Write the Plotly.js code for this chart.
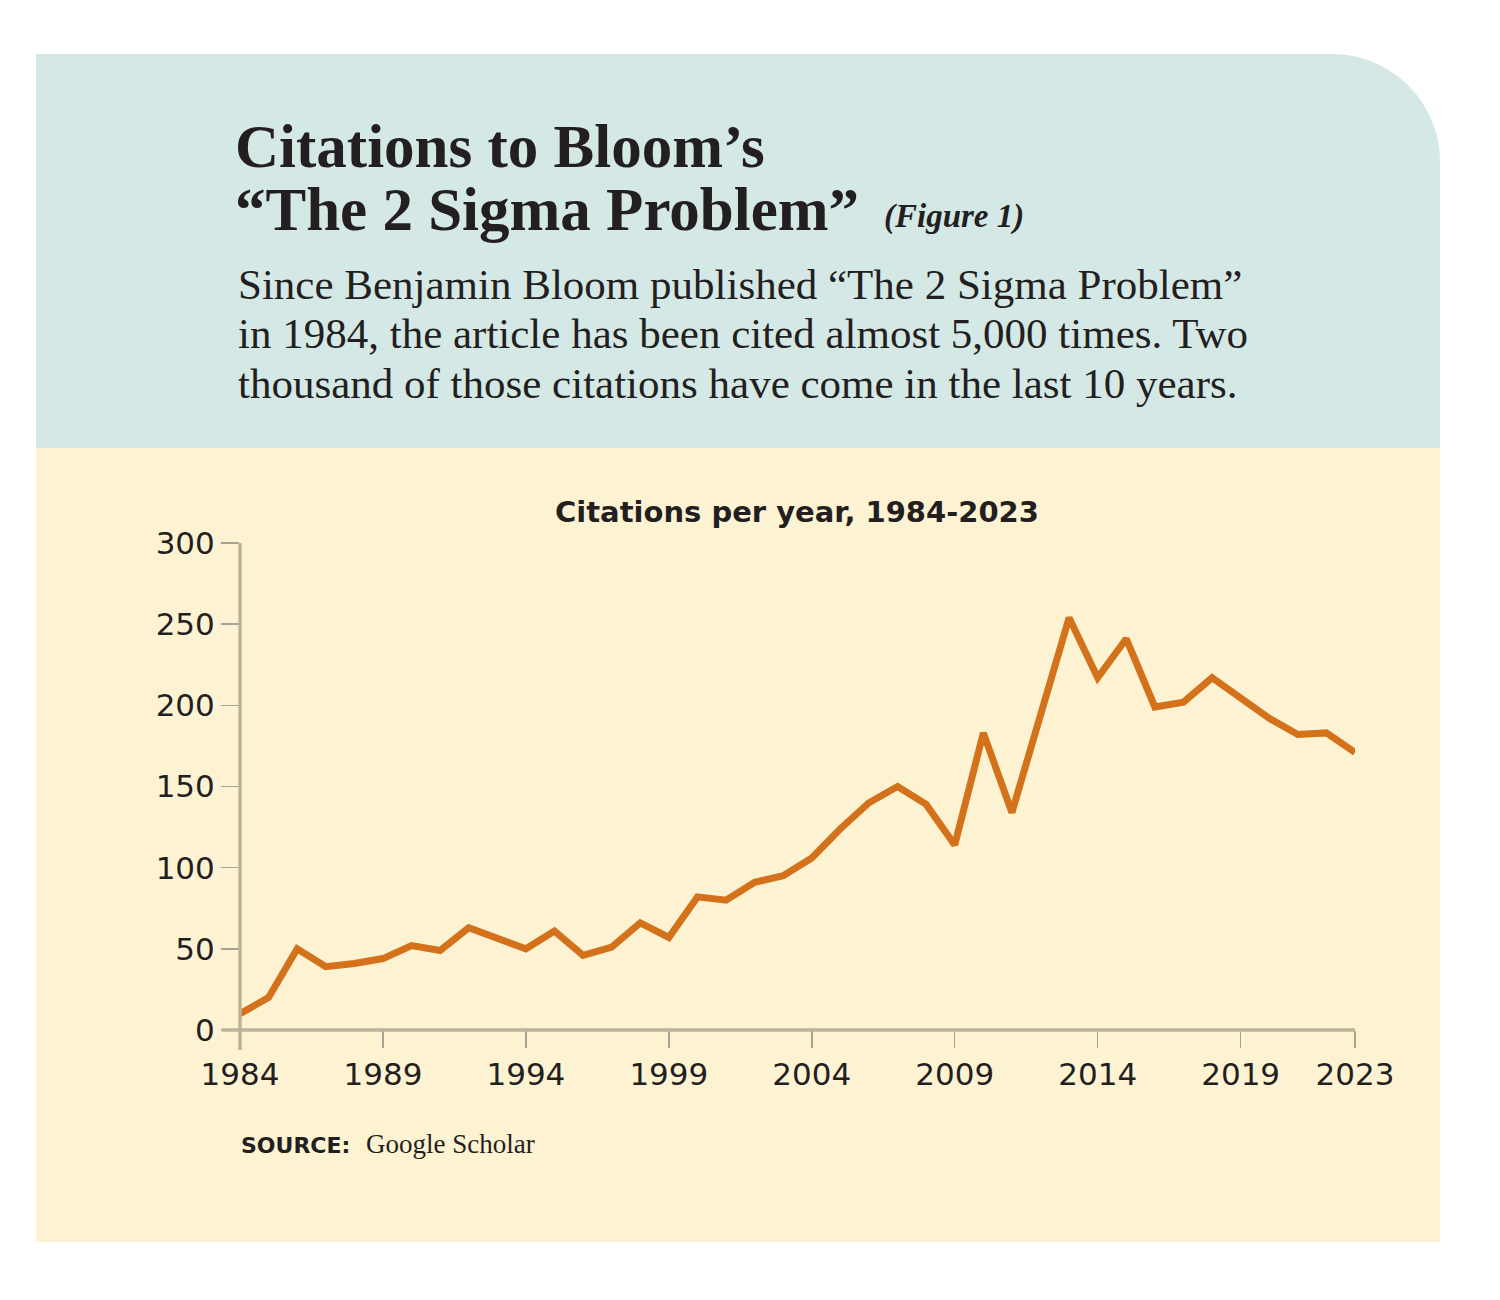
<!DOCTYPE html>
<html>
<head>
<meta charset="utf-8">
<script src="https://cdn.plot.ly/plotly-3.0.1.min.js"></script>
<style>html,body{margin:0;padding:0;background:#fff;}#chart{width:1500px;height:1300px;}</style>
</head>
<body>
<div id="chart"></div>
<script>
// ---- data ----
const years = [1984,1985,1986,1987,1988,1989,1990,1991,1992,1993,1994,1995,1996,1997,1998,1999,2000,2001,2002,2003,2004,2005,2006,2007,2008,2009,2010,2011,2012,2013,2014,2015,2016,2017,2018,2019,2020,2021,2022,2023];
const citations = [10,20,50,39,41,44,52,49,63,56,50,61,46,51,66,57,82,80,91,95,106,124,140,150,139,114,183,134,194,254,217,241,199,202,217,204,192,182,183,171];
const yTicks = [0,50,100,150,200,250,300];
const xTicks = [1984,1989,1994,1999,2004,2009,2014,2019,2023];
const xTickLabels = ['1984','1989','1994','1999','2004','2009','2014','2019','2023'];

const titleLine1 = 'Citations to Bloom’s';
const titleLine2 = '“The 2 Sigma Problem”';
const figLabel = '(Figure 1)';
const bodyLines = [
  'Since Benjamin Bloom published “The 2 Sigma Problem”',
  'in 1984, the article has been cited almost 5,000 times. Two',
  'thousand of those citations have come in the last 10 years.'
];
const chartTitle = 'Citations per year, 1984-2023';
const sourceLabel = 'SOURCE:';
const sourceName = 'Google Scholar';

// ---- layout geometry (pixels) ----
const W = 1500, H = 1300;
const L = 240, R = 1355, T = 543, B = 1030;
const px = x => (x - L) / (R - L);
const py = y => (B - y) / (B - T);

const teal = '#d4e9e6', cream = '#fdf3d3', axisCol = '#bcb49a', ink = '#231f20';

// rounded top-right panel
const r = 108, k = 0.5523;
const tealPath = [
  'M', px(36), py(448),
  'L', px(36), py(54),
  'L', px(1440 - r), py(54),
  'C', px(1440 - r + r * k), py(54), px(1440), py(54 + r - r * k), px(1440), py(54 + r),
  'L', px(1440), py(448), 'Z'
].join(' ');

const shapes = [
  {type:'path', xref:'paper', yref:'paper', path: tealPath, fillcolor: teal, line:{width:0}, layer:'below'},
  {type:'rect', xref:'paper', yref:'paper', x0:px(36), x1:px(1440), y0:py(1242), y1:py(448), fillcolor: cream, line:{width:0}, layer:'below'},
  // axis lines
  {type:'line', xref:'paper', yref:'paper', x0:px(222), x1:1, y0:0, y1:0, line:{color:axisCol, width:3.5}, layer:'above'},
  {type:'line', xref:'paper', yref:'paper', x0:0, x1:0, y0:py(1050), y1:1, line:{color:axisCol, width:3.5}, layer:'above'}
];

const ann = (text, x, y, size, family, opts={}) => Object.assign({
  text, xref:'paper', yref:'paper', x:px(x), y:py(y), xanchor:'left', yanchor:'middle',
  showarrow:false, font:{size, family, color: ink}
}, opts);

const annotations = [
  ann('<b>' + titleLine1 + '</b>', 233, 147, 61, 'Liberation Serif'),
  ann('<b>' + titleLine2 + '</b>', 233, 210, 61, 'Liberation Serif'),
  ann('<b><i>' + figLabel + '</i></b>', 882, 216, 33, 'Liberation Serif'),
  ann(bodyLines[0], 236, 284, 43, 'Liberation Serif'),
  ann(bodyLines[1], 236, 333, 43, 'Liberation Serif'),
  ann(bodyLines[2], 236, 383, 43, 'Liberation Serif'),
  ann('<b>' + chartTitle + '</b>', 797, 512, 29, 'DejaVu Sans', {xanchor:'center'}),
  ann('<b>' + sourceLabel + '</b>', 239, 1145, 22, 'DejaVu Sans'),
  ann(sourceName, 364, 1144, 27, 'Liberation Serif')
];

const trace = {
  x: years, y: citations, type:'scatter', mode:'lines',
  line:{color:'#d4721c', width:7, shape:'linear'},
  hoverinfo:'x+y', cliponaxis:false
};

const layout = {
  width: W, height: H,
  margin:{l:L, r:W - R, t:T, b:H - B, pad:0},
  paper_bgcolor:'#ffffff', plot_bgcolor:'rgba(0,0,0,0)',
  showlegend:false,
  xaxis:{range:[1984,2023], tickmode:'array', tickvals:xTicks, ticktext:xTickLabels,
    ticks:'outside', ticklen:17, tickwidth:1.5, tickcolor:'#a9a290',
    showline:false, showgrid:false, zeroline:false,
    tickfont:{family:'DejaVu Sans', size:31, color:ink}, fixedrange:true},
  yaxis:{range:[0,300], tickmode:'array', tickvals:yTicks,
    ticks:'outside', ticklen:18, tickwidth:1.5, tickcolor:'#a9a290',
    showline:false, showgrid:false, zeroline:false,
    tickfont:{family:'DejaVu Sans', size:31, color:ink}, fixedrange:true},
  shapes, annotations
};

Plotly.newPlot('chart', [trace], layout, {displayModeBar:false, staticPlot:true});
</script>
</body>
</html>
